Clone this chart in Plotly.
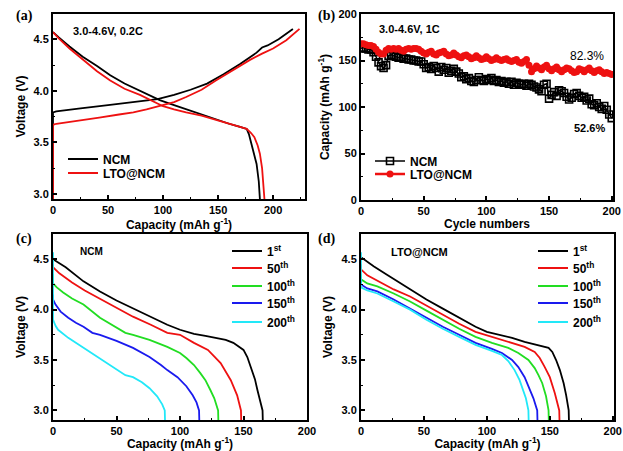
import plotly.graph_objects as go

# ---------------- Panel (a): first charge/discharge, 0.2C ----------------
a_ncm_chg_cap = [0, 0, 3, 10, 25, 50, 75, 95, 110, 125, 140, 155, 170, 185, 190, 195, 205, 218]
a_ncm_chg_v = [2.90, 3.79, 3.80, 3.81, 3.83, 3.86, 3.89, 3.92, 3.96, 4.01, 4.07, 4.16, 4.26, 4.37, 4.42, 4.44, 4.50, 4.60]
a_lto_chg_cap = [0, 0, 3, 10, 25, 42, 60, 73, 85, 97, 110, 121, 135, 148, 165, 179, 190, 200, 212, 224]
a_lto_chg_v = [2.90, 3.67, 3.68, 3.69, 3.71, 3.74, 3.77, 3.79, 3.82, 3.85, 3.89, 3.94, 4.01, 4.10, 4.21, 4.30, 4.36, 4.41, 4.49, 4.60]
a_ncm_dis_cap = [0, 5, 15, 27, 40, 52, 65, 79, 90, 97, 110, 121, 135, 148, 160, 170, 176, 178, 180, 183, 185, 187, 188, 188.3]
a_ncm_dis_v = [4.57, 4.52, 4.43, 4.33, 4.24, 4.15, 4.07, 4.00, 3.94, 3.91, 3.86, 3.82, 3.77, 3.72, 3.68, 3.65, 3.63, 3.58, 3.49, 3.38, 3.29, 3.12, 2.98, 2.90]
a_lto_dis_cap = [0, 5, 15, 27, 40, 52, 65, 79, 90, 100, 110, 121, 135, 148, 160, 170, 176, 180, 183, 186, 188, 190, 191, 192.3, 192.5]
a_lto_dis_v = [4.57, 4.51, 4.41, 4.30, 4.19, 4.10, 4.02, 3.96, 3.90, 3.85, 3.82, 3.79, 3.76, 3.72, 3.68, 3.65, 3.63, 3.59, 3.55, 3.47, 3.39, 3.25, 3.13, 3.00, 2.90]
a_names = ["NCM", "LTO@NCM"]

# ---------------- Panel (b): cycling at 1C ----------------
b_cycles = list(range(0, 201, 2))
b_ncm = [163, 164, 163, 162, 162, 159, 154, 148, 144, 142, 145, 155, 156, 155, 154, 153, 154, 152, 152, 151,
         151, 150, 150, 149, 149, 146, 142, 143, 141, 144, 142, 138, 143, 140, 142, 137, 139, 141, 138, 136,
         132, 133, 130, 131, 128, 127, 129, 132, 129, 128, 130, 129, 131, 128, 129, 127, 128, 126, 127, 125,
         127, 124, 126, 125, 124, 125, 123, 125, 124, 122, 121, 119, 117, 124, 125, 109, 113, 116, 112, 118,
         117, 115, 111, 108, 110, 114, 115, 112, 110, 111, 107, 109, 103, 102, 104, 100, 98, 101, 97, 92, 88]
b_lto = [168, 168, 167, 166, 166, 165, 162, 159, 157, 157, 161, 163, 162, 163, 162, 163, 161, 160, 162, 163,
         162, 163, 163, 162, 160, 158, 157, 159, 160, 157, 156, 158, 159, 160, 157, 155, 156, 158, 156, 154,
         153, 155, 156, 154, 152, 153, 155, 153, 151, 152, 154, 152, 150, 151, 153, 151, 150, 151, 152, 150,
         149, 150, 151, 148, 147, 149, 151, 145, 138, 141, 144, 142, 140, 143, 145, 141, 139, 141, 143, 140,
         138, 140, 142, 141, 139, 137, 138, 141, 140, 138, 140, 142, 139, 137, 139, 140, 138, 136, 137, 136, 135]

# ---------------- Panel (c): NCM discharge curves ----------------
c_labels = ["1<sup>st</sup>", "50<sup>th</sup>", "100<sup>th</sup>", "150<sup>th</sup>", "200<sup>th</sup>"]
c_caps = [
    [0, 10, 24, 37, 50, 63, 77, 90, 100, 111, 120, 129, 136, 142, 147, 150, 153, 156, 159, 161, 163, 165, 165.2],
    [0, 0, 5, 15, 25, 37, 50, 63, 77, 90, 100, 111, 122, 132, 140, 145, 148, 148.2],
    [0, 0, 3, 8, 15, 24, 37, 50, 57, 63, 76, 90, 100, 105, 111, 116, 120, 124, 127, 130, 130.2],
    [0, 0, 2, 6, 12, 18, 24, 31, 37, 50, 63, 76, 85, 90, 98, 105, 110, 113, 115, 115.2],
    [0, 0, 2, 4, 12, 24, 37, 50, 57, 63, 70, 76, 82, 86, 88, 88.2],
]
c_volts = [
    [4.50, 4.42, 4.28, 4.18, 4.09, 4.01, 3.93, 3.85, 3.80, 3.76, 3.74, 3.72, 3.70, 3.67, 3.63, 3.60, 3.53, 3.43, 3.31, 3.20, 3.10, 3.00, 2.90],
    [4.45, 4.42, 4.36, 4.27, 4.19, 4.11, 4.02, 3.93, 3.85, 3.77, 3.75, 3.67, 3.60, 3.47, 3.30, 3.15, 3.00, 2.90],
    [4.35, 4.26, 4.22, 4.17, 4.11, 4.05, 3.92, 3.82, 3.77, 3.75, 3.70, 3.63, 3.57, 3.52, 3.45, 3.37, 3.30, 3.20, 3.12, 3.00, 2.90],
    [4.15, 4.10, 4.05, 3.98, 3.92, 3.87, 3.83, 3.77, 3.75, 3.69, 3.62, 3.53, 3.45, 3.40, 3.33, 3.24, 3.15, 3.08, 3.00, 2.90],
    [4.57, 3.90, 3.84, 3.80, 3.72, 3.62, 3.51, 3.40, 3.35, 3.33, 3.28, 3.22, 3.14, 3.06, 3.00, 2.90],
]

# ---------------- Panel (d): LTO@NCM discharge curves ----------------
d_caps = [
    [0, 10, 20, 39, 52, 65, 78, 91, 100, 107, 120, 130, 140, 149, 152, 155, 158, 161, 163, 165, 165.2],
    [0, 0, 5, 15, 26, 39, 52, 65, 78, 91, 104, 117, 130, 138, 142, 146, 150, 154, 156, 157.5, 157.7],
    [0, 0, 5, 13, 26, 39, 52, 65, 78, 91, 104, 117, 125, 133, 138, 141, 144, 147, 149, 149.2],
    [0, 0, 5, 13, 26, 39, 52, 65, 78, 91, 104, 112, 120, 125, 130, 133, 137, 140, 140.2],
    [0, 0, 5, 13, 26, 39, 52, 65, 78, 91, 104, 112, 117, 122, 126, 129, 131, 133, 133.2],
]
d_volts = [
    [4.52, 4.43, 4.35, 4.20, 4.10, 4.01, 3.92, 3.83, 3.78, 3.76, 3.72, 3.68, 3.65, 3.62, 3.58, 3.50, 3.40, 3.27, 3.15, 3.00, 2.90],
    [4.45, 4.40, 4.34, 4.27, 4.20, 4.13, 4.04, 3.95, 3.86, 3.78, 3.73, 3.68, 3.63, 3.58, 3.52, 3.43, 3.33, 3.17, 3.08, 3.00, 2.90],
    [4.35, 4.30, 4.26, 4.23, 4.16, 4.08, 3.99, 3.90, 3.81, 3.73, 3.67, 3.62, 3.57, 3.50, 3.42, 3.35, 3.27, 3.14, 3.00, 2.90],
    [4.30, 4.25, 4.21, 4.18, 4.10, 4.01, 3.92, 3.83, 3.75, 3.67, 3.61, 3.57, 3.50, 3.43, 3.33, 3.24, 3.12, 3.00, 2.90],
    [4.57, 4.22, 4.19, 4.16, 4.08, 4.00, 3.90, 3.81, 3.73, 3.65, 3.59, 3.55, 3.49, 3.40, 3.30, 3.20, 3.12, 3.00, 2.90],
]

cycle_colors = ["#000000", "#ee1111", "#22dd22", "#1a1aee", "#22e8f8"]
W, H = 623, 451
FONT = "Liberation Sans, Arial, sans-serif"
SERIF = "Liberation Serif, Times New Roman, serif"


def px_x(p):
    return p / W


def px_y(p):
    return 1 - p / H


legend_font = dict(family=FONT, size=12, color="black", weight="bold")
legends = {}
legend_count = [0]


def new_legend(x, y):
    legend_count[0] += 1
    key = "legend" if legend_count[0] == 1 else "legend%d" % legend_count[0]
    legends[key] = dict(x=px_x(x), y=px_y(y), xanchor="left", yanchor="middle",
                        bgcolor="rgba(0,0,0,0)", borderwidth=0, font=legend_font)
    return key


fig = go.Figure()

# Panel a
lg = [new_legend(63, 159), new_legend(63, 173)]
fig.add_trace(go.Scatter(x=a_ncm_chg_cap, y=a_ncm_chg_v, mode="lines", line=dict(color="black", width=1.8),
                         name=a_names[0], legend=lg[0], xaxis="x", yaxis="y"))
fig.add_trace(go.Scatter(x=a_ncm_dis_cap, y=a_ncm_dis_v, mode="lines", line=dict(color="black", width=1.8),
                         showlegend=False, xaxis="x", yaxis="y"))
fig.add_trace(go.Scatter(x=a_lto_chg_cap, y=a_lto_chg_v, mode="lines", line=dict(color="#ee1111", width=1.8),
                         name=a_names[1], legend=lg[1], xaxis="x", yaxis="y"))
fig.add_trace(go.Scatter(x=a_lto_dis_cap, y=a_lto_dis_v, mode="lines", line=dict(color="#ee1111", width=1.8),
                         showlegend=False, xaxis="x", yaxis="y"))

# Panel b
lg = [new_legend(370, 161), new_legend(370, 174)]
fig.add_trace(go.Scatter(x=b_cycles, y=b_ncm, mode="lines+markers", name=a_names[0], legend=lg[0],
                         line=dict(color="black", width=1.5),
                         marker=dict(symbol="square-open", size=7, color="black", line=dict(width=1.6)),
                         xaxis="x2", yaxis="y2"))
fig.add_trace(go.Scatter(x=b_cycles, y=b_lto, mode="lines+markers", name=a_names[1], legend=lg[1],
                         line=dict(color="#ee1111", width=2.5),
                         marker=dict(symbol="circle", size=7, color="#ee1111"),
                         xaxis="x2", yaxis="y2"))

# Panels c, d
c_rows = [251, 268, 286, 303, 322]
for lab, cx, cy, col, ry in zip(c_labels, c_caps, c_volts, cycle_colors, c_rows):
    fig.add_trace(go.Scatter(x=cx, y=cy, mode="lines", name=lab, legend=new_legend(227, ry),
                             line=dict(color=col, width=1.8), xaxis="x3", yaxis="y3"))
for lab, cx, cy, col, ry in zip(c_labels, d_caps, d_volts, cycle_colors, c_rows):
    fig.add_trace(go.Scatter(x=cx, y=cy, mode="lines", name=lab, legend=new_legend(533, ry),
                             line=dict(color=col, width=1.8), xaxis="x4", yaxis="y4"))


tickfont = dict(family=FONT, size=11, color="black", weight="bold")
titlefont = dict(family=FONT, size=12, color="black", weight="bold")


def xax(dom, rng, anchor, title, standoff):
    return dict(domain=dom, range=rng, anchor=anchor, showgrid=False, zeroline=False, automargin=False,
                showline=True, linecolor="black", linewidth=2, mirror=True,
                ticks="inside", ticklen=4, tickwidth=1.5, tickcolor="black",
                dtick=50, tick0=0, tickfont=tickfont, ticklabeloverflow="allow",
                minor=dict(ticks="inside", ticklen=2, tickwidth=1, tickcolor="black", dtick=25, showgrid=False),
                title=dict(text=title, font=titlefont, standoff=standoff))


def yax(dom, rng, anchor, title, standoff, dtick, fmt, mdtick):
    return dict(domain=dom, range=rng, anchor=anchor, showgrid=False, zeroline=False, automargin=False,
                showline=True, linecolor="black", linewidth=2, mirror=True,
                ticks="inside", ticklen=4, tickwidth=1.5, tickcolor="black",
                dtick=dtick, tick0=0, tickformat=fmt, tickfont=tickfont, ticklabeloverflow="allow",
                minor=dict(ticks="inside", ticklen=2, tickwidth=1, tickcolor="black", dtick=mdtick, showgrid=False),
                title=dict(text=title, font=titlefont, standoff=standoff))


cap_title = "Capacity (mAh g<sup>-1</sup>)"
fig.update_layout(
    template="none",
    width=W, height=H, margin=dict(l=0, r=0, t=0, b=0, pad=0),
    paper_bgcolor="white", plot_bgcolor="white",
    font=dict(family=FONT, color="black"),
    showlegend=True,
    xaxis=xax([px_x(53), px_x(305)], [0, 229], "y", cap_title, 1),
    yaxis=yax([px_y(199), px_y(14)], [2.95, 4.745], "x", "Voltage (V)", 5, 0.5, ".1f", 0.25),
    xaxis2=xax([px_x(361), px_x(613)], [0, 201], "y2", "Cycle numbers", 2),
    yaxis2=yax([px_y(200), px_y(14)], [0, 200], "x2", cap_title, 6, 50, "d", 25),
    xaxis3=xax([px_x(53), px_x(307)], [0, 200], "y3", cap_title, 1),
    yaxis3=yax([px_y(420), px_y(234)], [2.905, 4.75], "x3", "Voltage (V)", 5, 0.5, ".1f", 0.25),
    xaxis4=xax([px_x(361), px_x(614)], [0, 201], "y4", cap_title, 1),
    yaxis4=yax([px_y(420), px_y(234)], [2.905, 4.75], "x4", "Voltage (V)", 6, 0.5, ".1f", 0.25),
    **legends,
)

ann = []


def note(x, y, text, size=11, family=FONT, weight="bold", xanchor="left"):
    ann.append(dict(x=px_x(x), y=px_y(y), xref="paper", yref="paper", text=text, showarrow=False,
                    xanchor=xanchor, yanchor="middle",
                    font=dict(family=family, size=size, color="black", weight=weight)))


note(14, 16, "(a)", 14, SERIF)
note(316, 16, "(b)", 14, SERIF)
note(14, 239, "(c)", 14, SERIF)
note(316, 239, "(d)", 14, SERIF)
note(71, 31, "3.0-4.6V, 0.2C", 11)
note(377, 29, "3.0-4.6V, 1C", 11)
note(606, 56, "82.3%", 12, FONT, "normal", "right")
note(607, 128, "52.6%", 11, FONT, "bold", "right")
note(78, 251, "NCM", 10)
note(389, 252, "LTO@NCM", 11)
fig.update_layout(annotations=ann)

post = ("document.documentElement.style.margin='0';document.body.style.margin='0';"
        "document.body.style.padding='0';var gd=document.getElementById('{plot_id}');"
        "gd.style.position='absolute';gd.style.left='0px';gd.style.top='0px';")
fig.write_html("out.html", post_script=post, config={"displayModeBar": False})
